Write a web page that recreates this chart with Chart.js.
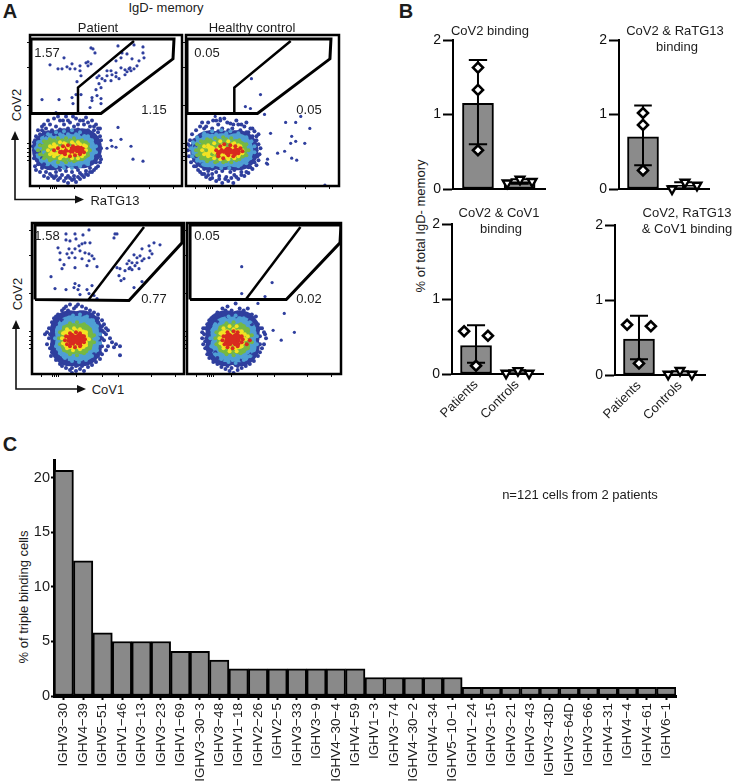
<!DOCTYPE html>
<html>
<head>
<meta charset="utf-8">
<script src="https://cdn.jsdelivr.net/npm/chart.js@4"></script>
<style>
  html, body { margin: 0; background: #fff; }
  #page { position: relative; width: 736px; height: 781px; overflow: hidden; font-family: "Liberation Sans", sans-serif; color: #1c1c1c; }
  canvas { position: absolute; }
  .txt { position: absolute; white-space: nowrap; font-size: 13px; line-height: 1; transform: translate(-50%, -50%); }
  svg { position: absolute; left: 0; top: 0; }
</style>
</head>
<body>
<div id="page">
  <svg width="736" height="781">
    <g stroke="#111" stroke-width="1.6" fill="none">
      <path d="M15 138V199.5H78"/>
      <path d="M16 327V389H80"/>
    </g>
    <g fill="#111">
      <path d="M15 131l-4 9h8z"/><path d="M84 199.5l-9-4v8z"/>
      <path d="M16 320l-4 9h8z"/><path d="M86 389l-9-4v8z"/>
    </g>
  </svg>
</div>
<script>
// ---- panel A: flow plots, axis units run 0-152 on both channels ----
const flowTicksX = [9, 20, 22, 24, 26, 44, 70, 86, 119, 143];
const flowTicksY = [26, 30, 34, 38, 43, 81, 119, 144];

const gateRatgOuter = [[1,73],[1,148],[144,148],[143,128],[71,73],[1,73]];
const gateRatgInner = [[48,73],[48,99],[104,146]];
const gateCov1Outer = [[3,75],[3,150],[150,150],[150,132],[97,74],[3,75]];
const gateCov1Inner = [[56,74],[112,148]];
const gateCov1OuterHc = [[3,75],[3,150],[152,150],[151,132],[98,75],[3,75]];
const gateCov1InnerHc = [[58,75],[112,148]];

const a1Sparse = [[34,129],[20,122],[28,118],[32,118],[37,120],[42,123],[40,118],[45,118],[50,121],[50,116],[51,111],[47,105],[56,124],[58,125],[61,139],[63,138],[65,134],[58,121],[61,123],[12,87],[29,87],[42,89],[46,92],[43,83],[51,92],[26,74],
  [88,141],[92,134],[97,133],[104,142],[113,140],[113,134],[114,129],[102,128],[109,126],[107,121],[100,119],[95,117],[86,114],[81,116],[77,111],[72,108],[67,109],[69,103],[75,106],[81,106],[86,110],[89,108],[97,115],[104,118],[91,119],[86,126],[91,129],[71,99],[66,97],[67,91],[71,88],[62,89],[71,83],[60,79],[62,86],[69,111],[77,116],[82,112],[95,112],[99,118],[101,116],
  [88,59],[86,39],[82,40],[91,47],[81,46],[101,40],[77,38],[103,27],[113,25]];
const a1Blue = [[24,68],[30,66],[36,70],[40,64],[46,68],[50,66],[56,69],[62,66],[66,62],[70,58],[20,62],[16,58],[12,60],[8,56],[26,60],[34,62],[44,60],[54,62],[60,60],[68,54],[6,50],[10,52],[14,54],[22,56],[30,57],[38,58],[48,57],[58,56],[64,56],[70,50],
  [8,22],[12,18],[16,14],[20,12],[24,8],[28,6],[34,5],[38,3],[42,6],[46,4],[50,7],[54,9],[58,11],[62,14],[66,18],[70,24],[70,30],[71,38],[4,28],[5,34],[3,40],[4,44],[14,22],[18,18],[26,14],[32,11],[38,10],[44,10],[50,13],[56,15],[60,18],[66,24],[22,18],[30,16],[36,15],[42,14],[48,16],[68,44],[71,46],[6,16],
  [14,62],[18,66],[28,70],[33,66],[38,66],[43,70],[48,62],[53,66],[58,64],[64,60],[68,58],[5,46],[9,48],[12,56],[18,54],[24,52],[7,26],[5,20],[10,14],[14,10],[18,8],[22,10],[26,10],[30,8],[36,8],[40,8],[44,7],[48,9],[52,11],[56,12],[60,14],[64,16],[68,20],[71,27],[69,34],[68,40],[66,48],[62,52],[52,52],[44,54],[36,53],[28,52],[16,50],[10,42],[9,34],[12,28],[20,20],[28,19],[36,19],[46,19],[54,20],[62,24],[66,30]];
const a1BlueCore = [[22,36],[34,38],[46,38],[52,38]];
const a1Cyan = [[6,38],[8,30],[8,44],[12,26],[12,48],[18,22],[18,52],[26,20],[26,54],[34,18],[34,55],[42,18],[42,56],[50,20],[50,54],[58,22],[58,50],[62,28],[62,46],[66,34],[66,40],
  [10,38],[12,44],[14,34],[16,26],[20,50],[24,24],[30,22],[30,52],[38,22],[38,52],[46,22],[46,52],[54,24],[54,50],[60,28],[60,46],[63,34],[63,40],[8,36],[16,48]];
const a1CyanCore = [[22,36],[36,36],[49,36]];
const a1Green = [[8,36],[10,32],[10,41],[14,28],[14,45],[20,26],[20,47],[28,24],[28,48],[36,24],[36,48],[44,25],[44,48],[52,27],[52,46],[58,31],[58,42],[60,36],
  [14,38],[16,32],[18,42],[22,28],[24,46],[26,34],[32,46],[34,26],[40,26],[40,46],[46,26],[50,44],[56,30],[56,44],[58,38],[30,40],[22,36],[38,44],[26,44]];
const a1GreenCore = [[20,36],[32,36],[44,36],[49,36]];
const a1Yellow = [[18,36],[20,32],[20,40],[24,30],[24,42],[30,28],[30,44],[36,30],[36,42],[42,28],[42,44],[48,28],[48,44],[54,32],[54,41],[56,36],[27,37],[33,38],[28,33],
  [22,34],[26,38],[30,38],[32,30],[34,43],[38,32],[42,31],[44,42],[50,42],[52,30],[56,40],[25,32],[46,33],[38,38]];
const a1YellowCore = [[26,36],[36,36],[48,36]];
const a1Red = [[24,36],[28,38],[30,34],[33,40],[35,32],[38,41],[40,30],[43,40],[45,31],[48,39],[50,32],[52,36],[54,34],[36,36],[42,35],[47,35]];
const a1RedCore = [[33,36],[40,35],[47,36],[51,36]];

const a2Sparse = [[65,108],[74,92],[59,80],[64,78],[78,72],[99,64],[109,64],[114,70],[123,58],[84,53],[105,50],[109,45],[104,43],[118,43],[98,35],[91,33],[105,28],[110,26],[138,1],[81,27],[80,23],[81,22],[29,70],[34,68]];
const a2Blue = [[22,64],[27,66],[32,62],[38,68],[44,63],[50,66],[55,62],[60,64],[64,58],[68,55],[72,52],[14,60],[10,56],[18,58],[26,58],[36,58],[46,58],[54,56],[62,54],[70,46],[6,52],[8,46],[2,42],[2,36],[3,30],[5,24],[8,20],[12,16],[16,12],[20,9],[24,7],[30,5],[36,3],[42,5],[47,3],[52,7],[58,10],[62,13],[66,17],[70,21],[72,26],[73,32],[74,38],[72,42],[12,22],[18,17],[26,12],[33,10],[40,9],[48,11],[55,14],[62,19],[68,28],[22,15],[30,14],[44,14],
  [16,64],[20,60],[30,66],[34,66],[41,64],[47,62],[52,62],[58,60],[66,58],[70,50],[4,46],[4,40],[6,30],[8,26],[10,20],[14,14],[18,12],[22,11],[26,8],[33,7],[39,7],[45,8],[50,9],[55,11],[60,14],[64,19],[68,24],[71,30],[70,36],[68,42],[66,50],[60,54],[52,54],[42,56],[32,55],[24,54],[14,50],[9,40],[10,30],[16,22],[26,17],[36,15],[48,16],[58,20]];
const a2BlueCore = [[24,36],[36,36],[48,36],[52,36]];
const a2Cyan = [[5,38],[6,30],[7,44],[11,26],[11,49],[17,22],[18,53],[26,20],[26,55],[35,18],[35,56],[43,18],[44,55],[52,20],[52,53],[60,23],[60,49],[64,28],[65,45],[68,34],[68,40],
  [9,38],[10,32],[14,44],[14,28],[20,24],[20,50],[30,22],[30,52],[40,22],[40,53],[48,22],[50,50],[56,26],[56,47],[62,32],[62,42],[64,37]];
const a2CyanCore = [[22,36],[36,36],[50,36]];
const a2Green = [[10,36],[11,31],[11,42],[15,28],[15,45],[21,25],[21,47],[29,24],[29,48],[37,24],[37,49],[45,24],[45,48],[53,27],[53,46],[60,31],[60,42],[62,36],
  [14,36],[16,30],[17,42],[24,27],[24,46],[31,25],[32,46],[40,25],[40,47],[50,26],[50,45],[56,30],[57,42],[58,37],[20,36],[26,32]];
const a2GreenCore = [[22,36],[36,36],[50,36]];
const a2Yellow = [[16,36],[18,32],[18,40],[22,30],[22,41],[28,28],[28,43],[34,27],[34,45],[42,27],[42,45],[48,28],[48,43],[53,32],[54,40],[56,36],[26,36],
  [28,34],[32,38],[36,31],[36,41],[40,29],[46,42],[44,30],[52,30],[52,41],[56,33],[24,36]];
const a2YellowCore = [[24,35],[36,35],[48,35]];
const a2Red = [[30,36],[32,30],[34,40],[37,28],[38,42],[42,31],[44,41],[47,30],[49,40],[52,33],[54,38],[56,35],[40,36],[46,35],[50,36]];
const a2RedCore = [[34,34],[42,35],[50,34]];

const a3Sparse = [[34,141],[43,141],[51,140],[57,145],[83,141],[85,141],[82,137],[34,135],[38,134],[44,136],[50,131],[53,132],[58,132],[47,129],[43,126],[37,126],[26,127],[28,122],[35,121],[40,122],[48,124],[53,122],[57,121],[60,119],[62,116],[57,114],[50,116],[43,117],[37,117],[28,115],[32,110],[30,106],[43,107],[55,109],[65,108],[19,98],[23,86],[34,85],[43,91],[47,89],[42,87],[46,85],[55,85],[60,89],[57,81],[48,80],[65,76],[62,79],
  [122,132],[128,130],[117,129],[118,124],[110,126],[120,121],[117,117],[108,119],[102,120],[97,114],[100,112],[105,112],[110,114],[95,111],[103,109],[98,107],[107,106],[93,104],[100,105],[85,107],[88,106],[87,99],[92,96],[89,94],[110,93],[102,87],[105,117],[112,116],[97,106]];
const a3Blue = [[30,64],[34,68],[38,70],[42,66],[46,70],[50,68],[54,66],[58,64],[62,62],[66,60],[26,60],[22,56],[20,52],[28,56],[34,60],[40,61],[48,62],[56,60],[64,56],[70,54],[72,50],[74,46],[17,46],[15,42],[13,40],[17,36],[15,30],[18,26],[20,22],[19,18],[24,14],[28,10],[30,8],[34,6],[38,4],[40,1],[44,3],[48,5],[52,3],[56,7],[60,9],[64,12],[68,15],[70,20],[74,24],[76,28],[72,34],[78,36],[80,32],[74,40],[76,44],[24,22],[28,16],[36,10],[46,9],[56,12],[66,18],[82,27],[88,28],[88,19],[84,30],
  [24,58],[32,66],[36,64],[44,68],[52,62],[60,60],[66,56],[70,48],[72,42],[20,46],[18,40],[20,30],[22,26],[24,18],[32,12],[40,6],[44,8],[50,8],[58,12],[62,16],[68,22],[70,28],[70,36],[70,44],[66,52],[58,58],[50,60],[42,60],[30,54],[24,50],[22,36],[26,18],[34,14],[42,12],[52,12],[62,20]];
const a3BlueCore = [[38,38],[50,38],[38,28],[50,28],[44,33],[38,44],[50,44]];
const a3Cyan = [[23,36],[24,28],[25,44],[28,21],[28,50],[33,16],[34,55],[40,13],[41,59],[47,12],[48,60],[54,14],[55,58],[60,18],[61,54],[65,24],[65,48],[68,31],[68,40],
  [26,36],[27,26],[28,46],[32,20],[32,52],[38,17],[38,55],[45,15],[46,56],[52,17],[54,54],[58,22],[60,50],[63,30],[63,42],[66,36]];
const a3CyanCore = [[40,30],[50,30],[40,42],[50,42]];
const a3Green = [[27,36],[28,30],[28,42],[32,24],[32,47],[38,20],[38,51],[45,19],[45,52],[52,21],[52,50],[58,26],[58,45],[62,32],[62,39],
  [30,38],[31,33],[32,43],[35,25],[36,47],[42,22],[42,49],[48,23],[50,48],[55,28],[56,43],[59,34],[60,38]];
const a3GreenCore = [[39,31],[50,31],[39,40],[50,40]];
const a3Yellow = [[30,36],[31,31],[31,41],[35,26],[35,45],[41,24],[42,46],[48,25],[48,45],[54,29],[54,42],[57,35],
  [33,36],[35,30],[36,41],[40,27],[44,44],[46,27],[50,42],[52,30],[55,36],[33,42]];
const a3YellowCore = [[37,31],[50,31],[37,39],[50,39],[44,35]];
const a3Red = [[33,34],[34,38],[35,30],[38,28],[38,41],[43,27],[44,42],[48,28],[48,41],[52,32],[52,38],[53,35]];
const a3RedCore = [[39,32],[48,32],[39,37],[48,37],[44,35]];

const a4Sparse = [[54,108],[84,92],[54,81],[77,78],[70,71],[96,61],[85,44],[106,42],[93,34]];
const a4Blue = [[30,62],[35,66],[40,68],[44,64],[48,71],[52,66],[56,64],[60,66],[64,60],[68,58],[26,58],[22,54],[20,50],[28,54],[36,60],[46,60],[54,60],[62,54],[70,50],[74,46],[76,42],[16,46],[15,42],[15,36],[16,30],[18,26],[20,20],[22,16],[26,12],[30,10],[34,7],[38,5],[42,3],[46,1],[50,4],[54,6],[58,8],[62,10],[66,13],[70,18],[72,22],[74,26],[76,30],[78,36],[77,40],[24,24],[30,16],[38,10],[48,9],[56,12],[66,20],[28,22],[17,40],[18,33],
  [24,56],[32,60],[38,64],[42,60],[50,62],[58,60],[64,56],[68,52],[72,46],[72,38],[18,46],[19,36],[20,28],[24,18],[28,14],[34,11],[40,8],[44,6],[50,8],[56,10],[62,14],[68,22],[72,30],[70,44],[64,50],[56,58],[48,58],[40,58],[30,52],[23,48],[22,34],[34,14],[44,12],[54,14],[62,20]];
const a4BlueCore = [[38,38],[52,38],[38,28],[52,28],[45,33],[38,44],[52,44]];
const a4Cyan = [[23,36],[24,28],[25,44],[28,20],[28,50],[34,15],[34,54],[41,12],[41,58],[48,11],[48,59],[56,14],[56,56],[62,18],[62,52],[66,24],[66,46],[69,30],[69,38],
  [26,36],[27,26],[28,44],[32,20],[32,50],[38,16],[38,54],[45,14],[46,56],[54,17],[54,53],[60,22],[60,49],[64,30],[64,42],[66,36]];
const a4CyanCore = [[40,29],[52,29],[40,41],[52,41]];
const a4Green = [[28,36],[29,30],[29,42],[33,24],[33,47],[39,20],[39,51],[46,19],[46,52],[53,21],[53,50],[60,26],[60,45],[64,32],[64,39],
  [31,38],[32,33],[33,44],[37,24],[38,48],[44,22],[44,49],[50,22],[52,47],[57,28],[58,42],[61,34],[61,38]];
const a4GreenCore = [[40,31],[52,31],[40,40],[52,40]];
const a4Yellow = [[32,36],[33,31],[33,41],[36,26],[36,46],[42,23],[42,48],[49,23],[49,48],[54,28],[54,43],[58,35],[60,38],
  [35,36],[37,28],[38,42],[42,26],[46,45],[48,26],[52,42],[54,32],[56,36],[35,42],[57,40]];
const a4YellowCore = [[39,31],[51,31],[39,39],[51,39],[45,35]];
const a4Red = [[35,34],[36,38],[37,30],[40,27],[40,42],[45,26],[46,43],[50,28],[50,42],[54,32],[54,38],[55,35],[59,30],[62,34]];
const a4RedCore = [[41,32],[49,32],[41,37],[49,37],[45,35]];

// ---- panel B ----
const groups = ["Patients", "Controls"];
const b1Bars = [1.15, 0.1];
const b1ErrLow = [0.6, 0.07];
const b1ErrHigh = [1.73, 0.13];
const b1PatientX = [1, 1, 1];
const b1PatientY = [1.63, 1.33, 0.52];
const b1ControlX = [1.7, 2.01, 2.3];
const b1ControlY = [0.08, 0.13, 0.1];

const b2Bars = [0.7, 0.05];
const b2ErrLow = [0.32, 0.0];
const b2ErrHigh = [1.12, 0.09];
const b2PatientX = [1, 1, 1];
const b2PatientY = [1.02, 0.86, 0.25];
const b2ControlX = [1.725, 2.05, 2.35];
const b2ControlY = [0.0, 0.09, 0.05];

const b3Bars = [0.38, 0.05];
const b3ErrLow = [0.15, 0.0];
const b3ErrHigh = [0.65, 0.05];
const b3PatientX = [0.71, 1.29, 1];
const b3PatientY = [0.57, 0.51, 0.11];
const b3ControlX = [1.73, 2.02, 2.29];
const b3ControlY = [0.01, 0.045, 0.01];

const b4Bars = [0.48, 0.03];
const b4ErrLow = [0.21, 0.0];
const b4ErrHigh = [0.79, 0.05];
const b4PatientX = [0.71, 1.29, 1];
const b4PatientY = [0.67, 0.65, 0.155];
const b4ControlX = [1.71, 2, 2.29];
const b4ControlY = [0.01, 0.06, 0.01];

// ---- panel C ----
const genes = ["IGHV3−30","IGHV4−39","IGHV5−51","IGHV1−46","IGHV3−13","IGHV3−23","IGHV1−69","IGHV3−30−3","IGHV3−48","IGHV1−18","IGHV2−26","IGHV2−5","IGHV3−33","IGHV3−9","IGHV4−30−4","IGHV4−59","IGHV1−3","IGHV3−74","IGHV4−30−2","IGHV4−34","IGHV5−10−1","IGHV1−24","IGHV3−15","IGHV3−21","IGHV3−43","IGHV3−43D","IGHV3−64D","IGHV3−66","IGHV4−31","IGHV4−4","IGHV4−61","IGHV6−1"];
const genePct = [20.7,12.4,5.8,5,5,5,4.1,4.1,3.3,2.5,2.5,2.5,2.5,2.5,2.5,2.5,1.7,1.7,1.7,1.7,1.7,0.8,0.8,0.8,0.8,0.8,0.8,0.8,0.8,0.8,0.8,0.8];
const pctTicks = [0, 5, 10, 15, 20];

const labels = [
  ["A", 10, 11, 20, "bold"], ["B", 406, 11, 20, "bold"], ["C", 10, 444, 20, "bold"],
  ["IgD- memory", 166, 7], ["Patient", 98, 27], ["Healthy control", 252, 27],
  ["1.57", 47, 52], ["1.15", 154, 109], ["0.05", 207, 52], ["0.05", 309, 109],
  ["1.58", 47, 235], ["0.77", 154, 298], ["0.05", 207, 235], ["0.02", 309, 298],
  ["RaTG13", 115, 200], ["CoV1", 108, 389],
  ["CoV2 binding", 490, 30], ["CoV2 & RaTG13", 675, 30], ["binding", 677, 46],
  ["CoV2 & CoV1", 499, 212], ["binding", 501, 228], ["CoV2, RaTG13", 687, 212], ["& CoV1 binding", 687, 228],
  ["n=121 cells from 2 patients", 580, 494],
];
const verticalLabels = [
  ["CoV2", 16, 105], ["CoV2", 17, 294],
  ["% of total IgD- memory", 420, 226], ["% of triple binding cells", 23, 597],
];

const FONT = "'Liberation Sans', sans-serif";
const page = document.getElementById("page");

function addLabel(text, x, y, size, weight, rotate) {
  const d = document.createElement("div");
  d.className = "txt";
  d.textContent = text;
  d.style.left = x + "px";
  d.style.top = y + "px";
  if (size) d.style.fontSize = size + "px";
  if (weight) d.style.fontWeight = weight;
  if (rotate) d.style.transform = "translate(-50%, -50%) rotate(-90deg)";
  page.appendChild(d);
}
verticalLabels.forEach((l) => addLabel(l[0], l[1], l[2], 13, null, true));

// canvas placed at box, chart area forced to the given edges
function makeChart(box, area, config) {
  const c = document.createElement("canvas");
  c.width = box.w; c.height = box.h;
  c.style.left = box.x + "px"; c.style.top = box.y + "px";
  c.style.width = box.w + "px"; c.style.height = box.h + "px";
  page.appendChild(c);
  const sx = config.options.scales.x, sy = config.options.scales.y;
  sx.afterFit = (s) => { s.height = box.y + box.h - area.bottom; s.paddingLeft = 0; s.paddingRight = 0; };
  sy.afterFit = (s) => { s.width = area.left - box.x; s.paddingTop = 0; s.paddingBottom = 0; };
  config.options.layout = { autoPadding: false, padding: { top: area.top - box.y, right: box.x + box.w - area.right, left: 0, bottom: 0 } };
  config.options.responsive = false;
  config.options.animation = false;
  config.options.plugins = { legend: { display: false }, tooltip: { enabled: false } };
  return new Chart(c, config);
}

const frame = {
  id: "frame",
  afterDatasetsDraw(chart) {
    const a = chart.chartArea, g = chart.ctx;
    g.save();
    g.strokeStyle = "#000";
    g.lineWidth = 2.5;
    g.strokeRect(a.left, a.top, a.right - a.left, a.bottom - a.top);
    g.restore();
  },
};

const toXY = (pts) => pts.map((p) => ({ x: p[0], y: p[1] }));

function dots(pts, color, radius) {
  return { type: "scatter", data: toXY(pts), backgroundColor: color, borderWidth: 0, pointRadius: radius, pointHoverRadius: radius };
}
function gateLine(pts, width) {
  return { type: "scatter", data: toXY(pts), showLine: true, borderColor: "#000", borderWidth: width, pointRadius: 0, fill: false, borderJoinStyle: "miter", tension: 0 };
}

const BLUE = "#2f3f9e", CYAN = "#4f9fd4", GREEN = "#76b843", YELLOW = "#f3e322", RED = "#d92a1f";

function flowPanel(box, area, layers, gates) {
  // solid density cores first, then all the single dots over them
  const datasets = [
    dots(layers.blueCore, BLUE, 20), dots(layers.cyanCore, CYAN, 17), dots(layers.greenCore, GREEN, 11),
    dots(layers.yellowCore, YELLOW, 6), dots(layers.redCore, RED, 4.5),
    dots(layers.sparse, BLUE, 1.6), dots(layers.blue, BLUE, 2), dots(layers.cyan, CYAN, 2),
    dots(layers.green, GREEN, 2), dots(layers.yellow, YELLOW, 2), dots(layers.red, RED, 2),
    gateLine(gates[0], 3), gateLine(gates[1], 2.5),
  ];
  datasets.forEach((d, i) => { d.order = datasets.length - i; });
  const tickOpts = (vals) => ({
    type: "linear", min: 0, max: 152,
    afterBuildTicks: (s) => { s.ticks = vals.map((v) => ({ value: v })); },
    grid: { drawOnChartArea: false, tickLength: 3, tickWidth: 1, tickColor: "#111" },
    border: { display: false },
    ticks: { display: false },
  });
  makeChart(box, area, {
    type: "scatter",
    data: { datasets },
    options: { scales: { x: tickOpts(flowTicksX), y: tickOpts(flowTicksY) } },
    plugins: [frame],
  });
}

flowPanel({ x: 24, y: 30, w: 162, h: 162 }, { left: 30, right: 182, top: 35, bottom: 186 },
  { sparse: a1Sparse, blue: a1Blue, blueCore: a1BlueCore, cyan: a1Cyan, cyanCore: a1CyanCore, green: a1Green, greenCore: a1GreenCore, yellow: a1Yellow, yellowCore: a1YellowCore, red: a1Red, redCore: a1RedCore },
  [gateRatgOuter, gateRatgInner]);
flowPanel({ x: 181, y: 30, w: 162, h: 162 }, { left: 186, right: 339, top: 35, bottom: 186 },
  { sparse: a2Sparse, blue: a2Blue, blueCore: a2BlueCore, cyan: a2Cyan, cyanCore: a2CyanCore, green: a2Green, greenCore: a2GreenCore, yellow: a2Yellow, yellowCore: a2YellowCore, red: a2Red, redCore: a2RedCore },
  [gateRatgOuter, gateRatgInner]);
flowPanel({ x: 26, y: 219, w: 162, h: 161 }, { left: 32, right: 184, top: 223, bottom: 374 },
  { sparse: a3Sparse, blue: a3Blue, blueCore: a3BlueCore, cyan: a3Cyan, cyanCore: a3CyanCore, green: a3Green, greenCore: a3GreenCore, yellow: a3Yellow, yellowCore: a3YellowCore, red: a3Red, redCore: a3RedCore },
  [gateCov1Outer, gateCov1Inner]);
flowPanel({ x: 182, y: 219, w: 163, h: 161 }, { left: 187, right: 341, top: 223, bottom: 374 },
  { sparse: a4Sparse, blue: a4Blue, blueCore: a4BlueCore, cyan: a4Cyan, cyanCore: a4CyanCore, green: a4Green, greenCore: a4GreenCore, yellow: a4Yellow, yellowCore: a4YellowCore, red: a4Red, redCore: a4RedCore },
  [gateCov1OuterHc, gateCov1InnerHc]);

function errorSegments(low, high) {
  const out = [];
  low.forEach((lo, i) => {
    const x = i + 1, hi = high[i];
    out.push({ x: x - 0.22, y: hi }, { x: x + 0.22, y: hi }, { x: x + 0.22, y: null });
    out.push({ x, y: hi }, { x, y: lo }, { x, y: null });
    out.push({ x: x - 0.22, y: lo }, { x: x + 0.22, y: lo }, { x: x + 0.22, y: null });
  });
  return out;
}

function barPanel(box, area, xRange, d, showNames) {
  const xy = (xs, ys) => xs.map((x, i) => ({ x, y: ys[i] }));
  makeChart(box, area, {
    type: "bar",
    data: {
      datasets: [
        { type: "bar", order: 4, data: xy([1, 2], d.bars), barThickness: 31, backgroundColor: "#8b8b8b", borderColor: "#000", borderWidth: 2, borderSkipped: false },
        { type: "scatter", order: 3, showLine: true, data: errorSegments(d.low, d.high), borderColor: "#000", borderWidth: 2, pointRadius: 0, spanGaps: false },
        { type: "scatter", order: 2, data: xy(d.px, d.py), pointStyle: "rectRot", pointRadius: 5, backgroundColor: "#fff", borderColor: "#000", pointBorderWidth: 2.6, clip: false },
        { type: "scatter", order: 1, data: xy(d.cx, d.cy), pointStyle: "triangle", rotation: 180, pointRadius: 5, backgroundColor: "#fff", borderColor: "#000", pointBorderWidth: 2.4, clip: false },
      ],
    },
    options: {
      scales: {
        x: {
          type: "linear", min: xRange[0], max: xRange[1], offset: false,
          afterBuildTicks: (s) => { s.ticks = [{ value: 1 }, { value: 2 }]; },
          grid: { display: false, drawTicks: false },
          border: { color: "#000", width: 2 },
          ticks: {
            display: showNames, autoSkip: false, minRotation: 45, maxRotation: 45, padding: 3, color: "#1c1c1c",
            font: { family: FONT, size: 13 },
            callback: (v) => groups[v - 1],
          },
        },
        y: {
          min: 0, max: 2,
          grid: { drawOnChartArea: false, tickLength: 10, tickWidth: 2, tickColor: "#000" },
          border: { color: "#000", width: 2 },
          ticks: { stepSize: 1, padding: 2, color: "#111", font: { family: FONT, size: 14 } },
        },
      },
    },
  });
}

barPanel({ x: 425, y: 30, w: 128, h: 170 }, { left: 453, right: 545, top: 40, bottom: 189 }, [0.4, 2.61],
  { bars: b1Bars, low: b1ErrLow, high: b1ErrHigh, px: b1PatientX, py: b1PatientY, cx: b1ControlX, cy: b1ControlY }, false);
barPanel({ x: 591, y: 30, w: 128, h: 170 }, { left: 619, right: 709, top: 40, bottom: 189 }, [0.4, 2.65],
  { bars: b2Bars, low: b2ErrLow, high: b2ErrHigh, px: b2PatientX, py: b2PatientY, cx: b2ControlX, cy: b2ControlY }, false);
barPanel({ x: 424, y: 214, w: 128, h: 210 }, { left: 452, right: 543, top: 224, bottom: 374 }, [0.415, 2.63],
  { bars: b3Bars, low: b3ErrLow, high: b3ErrHigh, px: b3PatientX, py: b3PatientY, cx: b3ControlX, cy: b3ControlY }, true);
barPanel({ x: 587, y: 215, w: 128, h: 210 }, { left: 615, right: 705, top: 225, bottom: 375 }, [0.415, 2.61],
  { bars: b4Bars, low: b4ErrLow, high: b4ErrHigh, px: b4PatientX, py: b4PatientY, cx: b4ControlX, cy: b4ControlY }, true);

makeChart({ x: 28, y: 450, w: 652, h: 331 }, { left: 54, right: 676, top: 460, bottom: 696 }, {
  type: "bar",
  data: {
    labels: genes,
    datasets: [{ data: genePct, backgroundColor: "#898989", borderColor: "#000", borderWidth: 2, barPercentage: 1, categoryPercentage: 1, borderSkipped: false }],
  },
  options: {
    scales: {
      x: {
        grid: { drawOnChartArea: false, tickLength: 4, tickWidth: 2, tickColor: "#000", offset: false },
        border: { color: "#000", width: 3 },
        ticks: { autoSkip: false, minRotation: 90, maxRotation: 90, padding: 3, color: "#1c1c1c", font: { family: FONT, size: 13.5 } },
      },
      y: {
        min: 0, max: 21.65,
        afterBuildTicks: (s) => { s.ticks = pctTicks.map((v) => ({ value: v })); },
        grid: { drawOnChartArea: false, tickLength: 3, tickWidth: 2, tickColor: "#000" },
        border: { color: "#000", width: 3 },
        ticks: { padding: 1, color: "#1c1c1c", font: { family: FONT, size: 14.5 } },
      },
    },
  },
});

// horizontal labels go on last so they sit above the canvases
labels.forEach((l) => addLabel(l[0], l[1], l[2], l[3], l[4]));
</script>
</body>
</html>
